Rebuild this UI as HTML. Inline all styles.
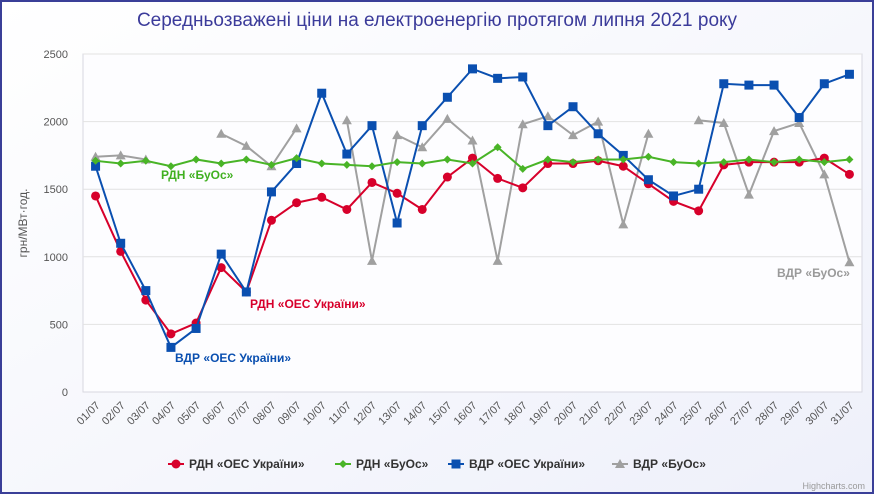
<!DOCTYPE html>
<html><head><meta charset="utf-8"><style>
body{margin:0;width:874px;height:494px;overflow:hidden;font-family:"Liberation Sans",sans-serif;}
svg{display:block}
</style></head><body>
<svg id="chart" width="874" height="494" xmlns="http://www.w3.org/2000/svg">
<defs><linearGradient id="bg" x1="0" y1="0" x2="1" y2="1"><stop offset="0" stop-color="#ffffff"/><stop offset="1" stop-color="#eef0fa"/></linearGradient></defs>
<rect x="1" y="1" width="872" height="492" fill="url(#bg)" stroke="#3a3f98" stroke-width="2"/>
<rect x="83" y="54" width="779" height="338" fill="#fdfdff" stroke="#d8d8e0"/>
<text x="437" y="26" text-anchor="middle" font-size="19" fill="#3b3b9a">Середньозважені ціни на електроенергію протягом липня 2021 року</text>
<text transform="translate(27,223) rotate(-90)" text-anchor="middle" font-size="12" fill="#555">грн/МВт·год.</text>
<g id="grid"></g><g id="series"></g><g id="xlabels"></g>
<text x="161" y="179" font-size="12" font-weight="bold" fill="#40b020">РДН «БуОс»</text>
<text x="250" y="308" font-size="12" font-weight="bold" fill="#d7002b">РДН «ОЕС України»</text>
<text x="175" y="362" font-size="12" font-weight="bold" fill="#0a4fb0">ВДР «ОЕС України»</text>
<text x="777" y="277" font-size="12" font-weight="bold" fill="#9a9a9a">ВДР «БуОс»</text>
<g id="legend"></g>
<text x="865" y="489" text-anchor="end" font-size="9" fill="#999">Highcharts.com</text>
</svg>
<script>
const categories=["01/07","02/07","03/07","04/07","05/07","06/07","07/07","08/07","09/07","10/07","11/07","12/07","13/07","14/07","15/07","16/07","17/07","18/07","19/07","20/07","21/07","22/07","23/07","24/07","25/07","26/07","27/07","28/07","29/07","30/07","31/07"];
const yTicks=[0,500,1000,1500,2000,2500];
const rdnOes=[1450,1040,680,430,510,920,740,1270,1400,1440,1350,1550,1470,1350,1590,1730,1580,1510,1690,1690,1710,1670,1540,1410,1340,1680,1700,1700,1700,1730,1610];
const rdnBuos=[1710,1690,1710,1670,1720,1690,1720,1680,1730,1690,1680,1670,1700,1690,1720,1690,1810,1650,1720,1700,1720,1720,1740,1700,1690,1700,1720,1700,1720,1700,1720];
const vdrOes=[1670,1100,750,330,470,1020,740,1480,1690,2210,1760,1970,1250,1970,2180,2390,2320,2330,1970,2110,1910,1750,1570,1450,1500,2280,2270,2270,2030,2280,2350];
const vdrBuos=[1740,1750,1720,null,null,1910,1820,1670,1950,null,2010,970,1900,1810,2020,1860,970,1980,2040,1900,2000,1240,1910,null,2010,1990,1460,1930,1990,1610,960];
const seriesNames=["РДН «ОЕС України»","РДН «БуОс»","ВДР «ОЕС України»","ВДР «БуОс»"];
const NS="http://www.w3.org/2000/svg";
const L=83,R=862,T=54,B=392,YMAX=2500;
const step=(R-L)/categories.length;
const xs=i=>L+step*(i+0.5);
const ys=v=>B-(v/YMAX)*(B-T);
function mk(tag,attrs,parent){const e=document.createElementNS(NS,tag);for(const k in attrs)e.setAttribute(k,attrs[k]);parent.appendChild(e);return e;}
const grid=document.getElementById('grid');
yTicks.forEach(t=>{
  if(t>0){const l=mk('line',{x1:L,x2:R,y1:ys(t),y2:ys(t),stroke:'#e2e2e2'},grid);
  
  }
  const tx=mk('text',{x:L-15,y:ys(t)+4,'text-anchor':'end','font-size':11,fill:'#555'},grid);tx.textContent=t;
  
  
});
const xl=document.getElementById('xlabels');
categories.forEach((c,i)=>{
  const t=mk('text',{transform:`translate(${xs(i)+5},${B+14}) rotate(-45)`,'text-anchor':'end','font-size':11,fill:'#555'},xl);t.textContent=c;
  
  
});
const sg=document.getElementById('series');
function marker(kind,x,y,col,p){
  let m;
  if(kind==='circle')m=mk('circle',{cx:x,cy:y,r:4.5,fill:col},p);
  else if(kind==='diamond')m=mk('path',{d:`M${x} ${y-4}L${x+4} ${y}L${x} ${y+4}L${x-4} ${y}Z`,fill:col},p);
  else if(kind==='square')m=mk('rect',{x:x-4.5,y:y-4.5,width:9,height:9,fill:col},p);
  else m=mk('path',{d:`M${x} ${y-5}L${x+5} ${y+4}L${x-5} ${y+4}Z`,fill:col},p);
  return m;
}
function drawSeries(data,col,kind,name){
  const g=mk('g',{},sg);
  
  
  let d='',pen=false;
  data.forEach((v,i)=>{if(v==null){pen=false;return;}d+=(pen?'L':'M')+xs(i)+' '+ys(v);pen=true;});
  const p=mk('path',{d:d,fill:'none',stroke:col,'stroke-width':2},g);
  
  
  data.forEach((v,i)=>{if(v==null)return;const m=marker(kind,xs(i),ys(v),col,g);
    
    });
}
drawSeries(vdrBuos,'#a0a0a0','triangle','series-vdr-buos');
drawSeries(rdnOes,'#d7002b','circle','series-rdn-oes');
drawSeries(vdrOes,'#0a4fb0','square','series-vdr-oes');
drawSeries(rdnBuos,'#49b427','diamond','series-rdn-buos');
const lg=document.getElementById('legend');
const lcols=['#d7002b','#49b427','#0a4fb0','#a0a0a0'],lkinds=['circle','diamond','square','triangle'],lx=[168,335,448,612];
seriesNames.forEach((n,i)=>{
  const g=mk('g',{},lg);
  
  
  mk('line',{x1:lx[i],x2:lx[i]+16,y1:464,y2:464,stroke:lcols[i],'stroke-width':2},g);
  marker(lkinds[i],lx[i]+8,464,lcols[i],g);
  const t=mk('text',{x:lx[i]+21,y:468,'font-size':12,'font-weight':'bold',fill:'#333'},g);t.textContent=n;
});
</script>
</body></html>
